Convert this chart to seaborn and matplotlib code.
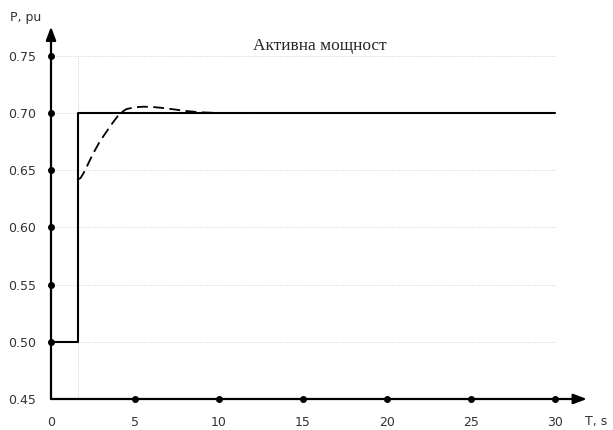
import matplotlib
matplotlib.use("Agg")
import matplotlib.pyplot as plt
import seaborn as sns
import numpy as np

# step reference (solid)
t_ref = [0, 1.6, 1.6, 30]
p_ref = [0.50, 0.50, 0.70, 0.70]

# response (dashed)
t_resp = [1.6, 1.75, 1.92, 2.1, 2.32, 2.6, 2.9, 3.3, 3.7, 4.1, 4.5, 5.0, 5.5, 6.0,
          6.6, 7.3, 8.0, 8.9, 10.0, 12.0, 15.0, 20.0, 25.0, 30.0]
p_resp = [0.642, 0.643, 0.647, 0.652, 0.659, 0.667, 0.675, 0.6836, 0.692, 0.6997,
          0.7035, 0.705, 0.7055, 0.7053, 0.7045, 0.7032, 0.7018, 0.7006, 0.7, 0.6999,
          0.7, 0.7, 0.7, 0.7]

xticks = [0, 5, 10, 15, 20, 25, 30]
yticks = [0.45, 0.50, 0.55, 0.60, 0.65, 0.70, 0.75]
title = "Активна мощност"

sns.set_style("white")
plt.rcParams['font.family'] = ['DejaVu Sans']

fig = plt.figure(figsize=(6.13, 4.3), dpi=100)
ax = fig.add_axes([51/613, 31/430, (592-51)/613, (399-25)/430])
ax.set_xlim(0, (592-51)/16.8)
ax.set_ylim(0.45, 0.45 + (399-25)/57.2*0.05)
for s in ax.spines.values():
    s.set_visible(False)

# grid
ax.hlines(yticks[1:], 0, 30, colors="#d0d0d0", linestyles=(0, (1, 1.5)), linewidth=0.7, zorder=0)
ax.vlines([1.6], 0.45, 0.75, colors="#d0d0d0", linestyles=(0, (1, 1.5)), linewidth=0.7, zorder=0)

sns.lineplot(x=t_ref, y=p_ref, ax=ax, color="black", linewidth=1.5, sort=False, estimator=None)
sns.lineplot(x=t_resp, y=p_resp, ax=ax, color="black", linewidth=1.3, sort=False,
             estimator=None, linestyle=(0, (6, 3)))

# axes with arrows
ax.annotate("", xy=(31.9, 0.45), xytext=(0, 0.45),
            arrowprops=dict(arrowstyle="-|>,head_length=0.8,head_width=0.3", color="black", lw=1.6,
                            shrinkA=0, shrinkB=0))
ax.annotate("", xy=(0, 0.7755), xytext=(0, 0.45),
            arrowprops=dict(arrowstyle="-|>,head_length=0.8,head_width=0.3", color="black", lw=1.6,
                            shrinkA=0, shrinkB=0))
ax.plot(xticks[1:], [0.45] * (len(xticks) - 1), "o", color="black", markersize=4, clip_on=False)
ax.plot([0] * (len(yticks) - 1), yticks[1:], "o", color="black", markersize=4, clip_on=False)

ax.set_xticks(xticks)
ax.set_yticks(yticks)
ax.set_xticklabels([str(x) for x in xticks])
ax.set_yticklabels(["%.2f" % y for y in yticks])
ax.tick_params(axis="x", length=0, pad=12, labelsize=9, labelcolor="#333333")
ax.tick_params(axis="y", length=0, pad=11, labelsize=9, labelcolor="#333333")

fig.text(10/613, 1 - 17/430, "P, pu", fontsize=9, color="#333333", va="center", ha="left")
fig.text(585/613, 1 - 421/430, "T, s", fontsize=9, color="#333333", va="center", ha="left")
ax.text(16.0, 0.7586, title, fontsize=12.5, family="Liberation Serif", ha="center", va="center")

fig.savefig("out.png", dpi=100)
